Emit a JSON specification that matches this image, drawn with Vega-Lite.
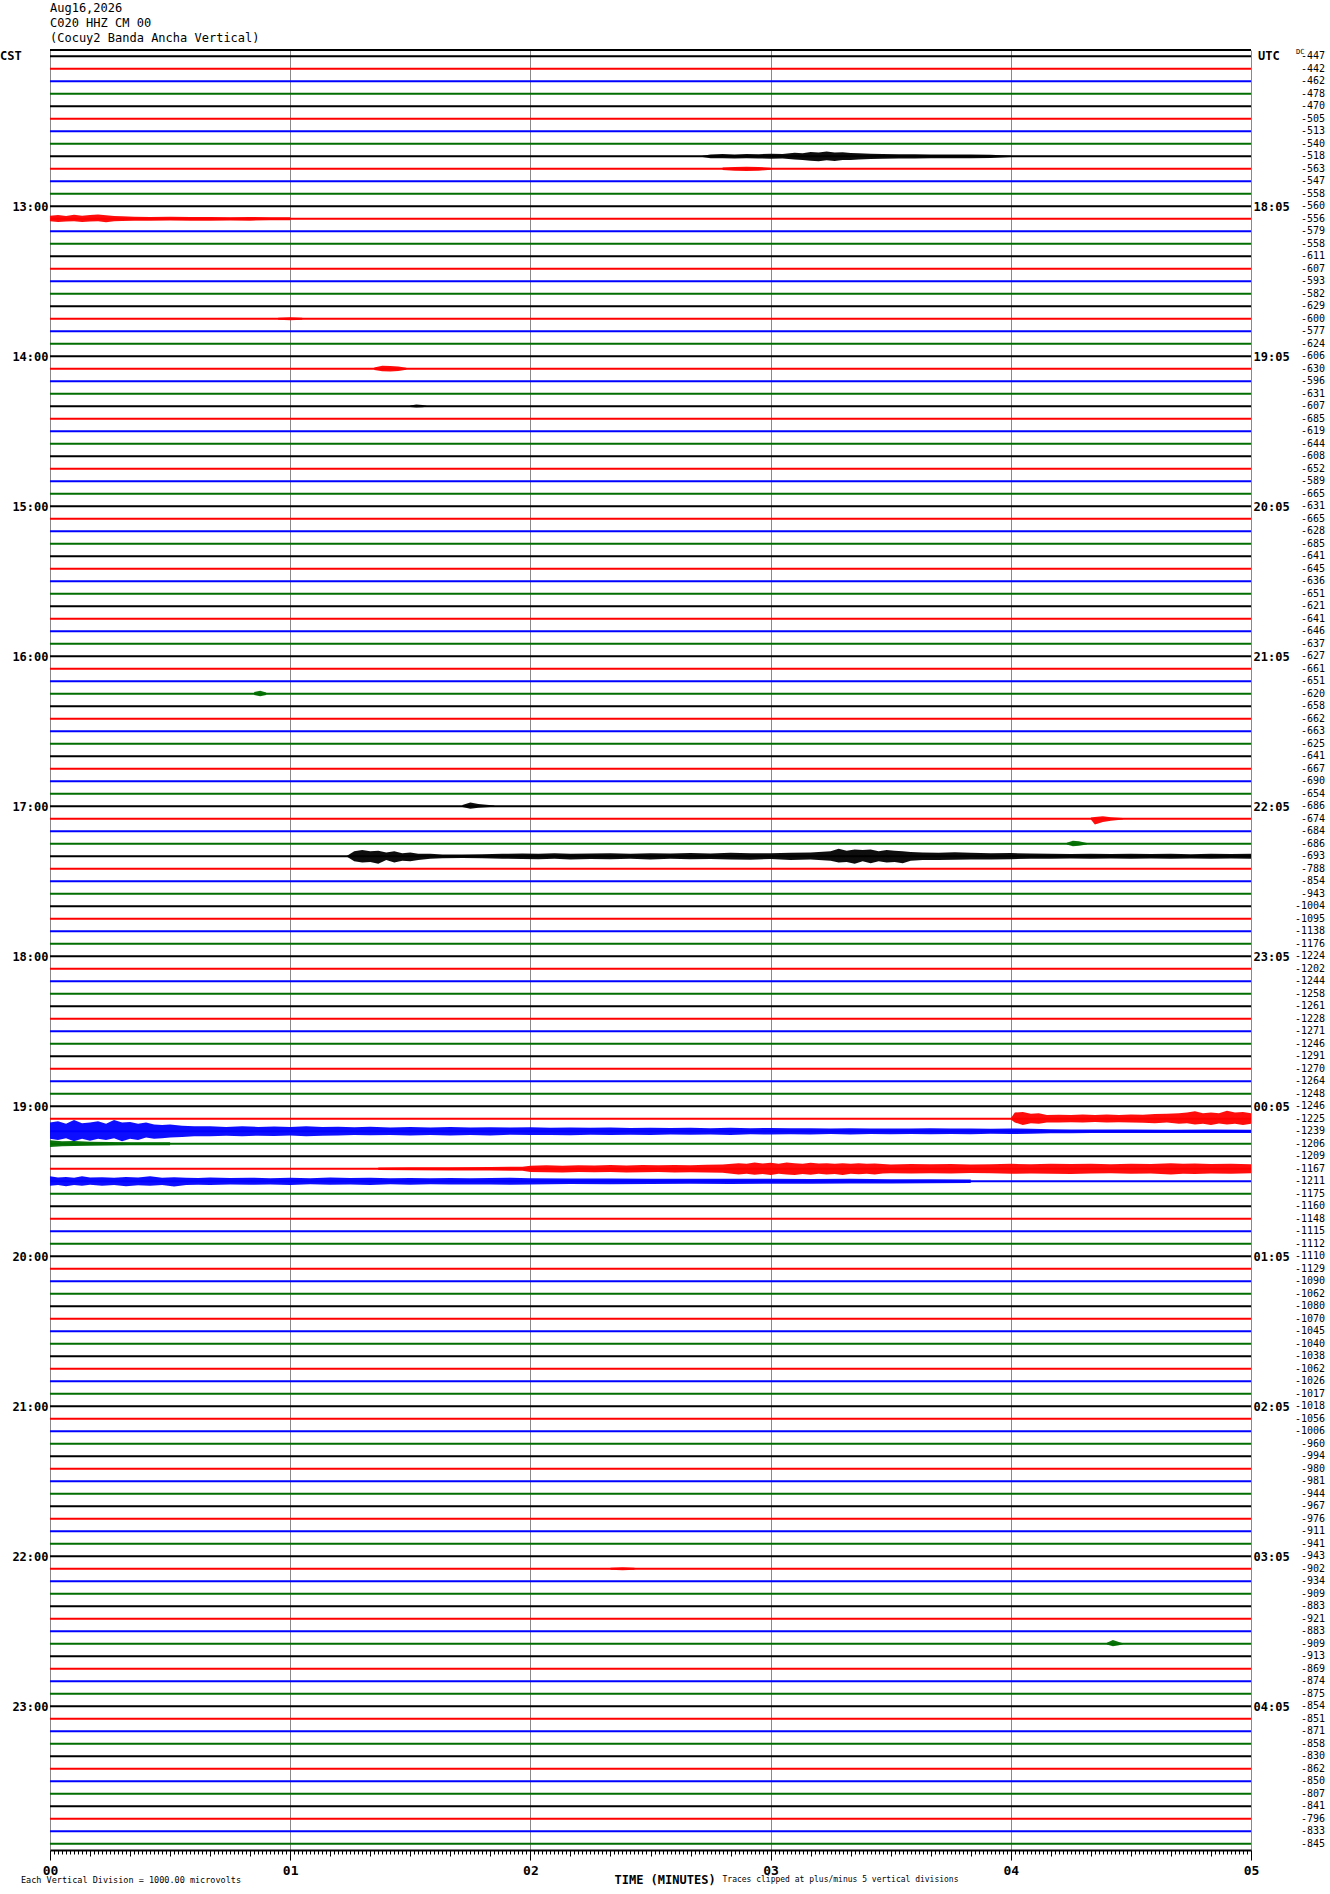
{
  "$schema": "https://vega.github.io/schema/vega-lite/v6.json",
  "autosize": "none",
  "width": 1201,
  "height": 1800,
  "padding": {"left": 50, "top": 50, "right": 79, "bottom": 44},
  "background": "white",
  "title": {
    "text": ["Aug16,2026", "C020 HHZ CM 00", "(Cocuy2 Banda Ancha Vertical)"],
    "anchor": "start",
    "frame": "group",
    "font": "DejaVu Sans Mono",
    "fontSize": 12,
    "fontWeight": "normal",
    "lineHeight": 15,
    "offset": 3,
    "color": "#000000"
  },
  "config": {"view": {"stroke": null}, "font": "DejaVu Sans Mono"},
  "resolve": {"axis": {"y": "independent"}},
  "datasets": {
    "traces": [
      {"i":0,"c":"k","dc":-447},{"i":1,"c":"r","dc":-442},{"i":2,"c":"b","dc":-462},{"i":3,"c":"g","dc":-478},
      {"i":4,"c":"k","dc":-470},{"i":5,"c":"r","dc":-505},{"i":6,"c":"b","dc":-513},{"i":7,"c":"g","dc":-540},
      {"i":8,"c":"k","dc":-518},{"i":9,"c":"r","dc":-563},{"i":10,"c":"b","dc":-547},{"i":11,"c":"g","dc":-558},
      {"i":12,"c":"k","dc":-560},{"i":13,"c":"r","dc":-556},{"i":14,"c":"b","dc":-579},{"i":15,"c":"g","dc":-558},
      {"i":16,"c":"k","dc":-611},{"i":17,"c":"r","dc":-607},{"i":18,"c":"b","dc":-593},{"i":19,"c":"g","dc":-582},
      {"i":20,"c":"k","dc":-629},{"i":21,"c":"r","dc":-600},{"i":22,"c":"b","dc":-577},{"i":23,"c":"g","dc":-624},
      {"i":24,"c":"k","dc":-606},{"i":25,"c":"r","dc":-630},{"i":26,"c":"b","dc":-596},{"i":27,"c":"g","dc":-631},
      {"i":28,"c":"k","dc":-607},{"i":29,"c":"r","dc":-685},{"i":30,"c":"b","dc":-619},{"i":31,"c":"g","dc":-644},
      {"i":32,"c":"k","dc":-608},{"i":33,"c":"r","dc":-652},{"i":34,"c":"b","dc":-589},{"i":35,"c":"g","dc":-665},
      {"i":36,"c":"k","dc":-631},{"i":37,"c":"r","dc":-665},{"i":38,"c":"b","dc":-628},{"i":39,"c":"g","dc":-685},
      {"i":40,"c":"k","dc":-641},{"i":41,"c":"r","dc":-645},{"i":42,"c":"b","dc":-636},{"i":43,"c":"g","dc":-651},
      {"i":44,"c":"k","dc":-621},{"i":45,"c":"r","dc":-641},{"i":46,"c":"b","dc":-646},{"i":47,"c":"g","dc":-637},
      {"i":48,"c":"k","dc":-627},{"i":49,"c":"r","dc":-661},{"i":50,"c":"b","dc":-651},{"i":51,"c":"g","dc":-620},
      {"i":52,"c":"k","dc":-658},{"i":53,"c":"r","dc":-662},{"i":54,"c":"b","dc":-663},{"i":55,"c":"g","dc":-625},
      {"i":56,"c":"k","dc":-641},{"i":57,"c":"r","dc":-667},{"i":58,"c":"b","dc":-690},{"i":59,"c":"g","dc":-654},
      {"i":60,"c":"k","dc":-686},{"i":61,"c":"r","dc":-674},{"i":62,"c":"b","dc":-684},{"i":63,"c":"g","dc":-686},
      {"i":64,"c":"k","dc":-693},{"i":65,"c":"r","dc":-788},{"i":66,"c":"b","dc":-854},{"i":67,"c":"g","dc":-943},
      {"i":68,"c":"k","dc":-1004},{"i":69,"c":"r","dc":-1095},{"i":70,"c":"b","dc":-1138},{"i":71,"c":"g","dc":-1176},
      {"i":72,"c":"k","dc":-1224},{"i":73,"c":"r","dc":-1202},{"i":74,"c":"b","dc":-1244},{"i":75,"c":"g","dc":-1258},
      {"i":76,"c":"k","dc":-1261},{"i":77,"c":"r","dc":-1228},{"i":78,"c":"b","dc":-1271},{"i":79,"c":"g","dc":-1246},
      {"i":80,"c":"k","dc":-1291},{"i":81,"c":"r","dc":-1270},{"i":82,"c":"b","dc":-1264},{"i":83,"c":"g","dc":-1248},
      {"i":84,"c":"k","dc":-1246},{"i":85,"c":"r","dc":-1225},{"i":86,"c":"b","dc":-1239},{"i":87,"c":"g","dc":-1206},
      {"i":88,"c":"k","dc":-1209},{"i":89,"c":"r","dc":-1167},{"i":90,"c":"b","dc":-1211},{"i":91,"c":"g","dc":-1175},
      {"i":92,"c":"k","dc":-1160},{"i":93,"c":"r","dc":-1148},{"i":94,"c":"b","dc":-1115},{"i":95,"c":"g","dc":-1112},
      {"i":96,"c":"k","dc":-1110},{"i":97,"c":"r","dc":-1129},{"i":98,"c":"b","dc":-1090},{"i":99,"c":"g","dc":-1062},
      {"i":100,"c":"k","dc":-1080},{"i":101,"c":"r","dc":-1070},{"i":102,"c":"b","dc":-1045},{"i":103,"c":"g","dc":-1040},
      {"i":104,"c":"k","dc":-1038},{"i":105,"c":"r","dc":-1062},{"i":106,"c":"b","dc":-1026},{"i":107,"c":"g","dc":-1017},
      {"i":108,"c":"k","dc":-1018},{"i":109,"c":"r","dc":-1056},{"i":110,"c":"b","dc":-1006},{"i":111,"c":"g","dc":-960},
      {"i":112,"c":"k","dc":-994},{"i":113,"c":"r","dc":-980},{"i":114,"c":"b","dc":-981},{"i":115,"c":"g","dc":-944},
      {"i":116,"c":"k","dc":-967},{"i":117,"c":"r","dc":-976},{"i":118,"c":"b","dc":-911},{"i":119,"c":"g","dc":-941},
      {"i":120,"c":"k","dc":-943},{"i":121,"c":"r","dc":-902},{"i":122,"c":"b","dc":-934},{"i":123,"c":"g","dc":-909},
      {"i":124,"c":"k","dc":-883},{"i":125,"c":"r","dc":-921},{"i":126,"c":"b","dc":-883},{"i":127,"c":"g","dc":-909},
      {"i":128,"c":"k","dc":-913},{"i":129,"c":"r","dc":-869},{"i":130,"c":"b","dc":-874},{"i":131,"c":"g","dc":-875},
      {"i":132,"c":"k","dc":-854},{"i":133,"c":"r","dc":-851},{"i":134,"c":"b","dc":-871},{"i":135,"c":"g","dc":-858},
      {"i":136,"c":"k","dc":-830},{"i":137,"c":"r","dc":-862},{"i":138,"c":"b","dc":-850},{"i":139,"c":"g","dc":-807},
      {"i":140,"c":"k","dc":-841},{"i":141,"c":"r","dc":-796},{"i":142,"c":"b","dc":-833},{"i":143,"c":"g","dc":-845}
    ],
    "events": [
      {"e":1,"c":"k","t":163,"lo":7.95,"hi":8.05},{"e":1,"c":"k","t":165,"lo":7.85,"hi":8.15},{"e":1,"c":"k","t":168,"lo":7.82,"hi":8.16},
      {"e":1,"c":"k","t":171,"lo":7.86,"hi":8.18},{"e":1,"c":"k","t":174,"lo":7.82,"hi":8.15},{"e":1,"c":"k","t":177,"lo":7.84,"hi":8.18},
      {"e":1,"c":"k","t":180,"lo":7.8,"hi":8.2},{"e":1,"c":"k","t":183,"lo":7.82,"hi":8.18},{"e":1,"c":"k","t":186,"lo":7.72,"hi":8.25},
      {"e":1,"c":"k","t":188,"lo":7.75,"hi":8.3},{"e":1,"c":"k","t":190,"lo":7.65,"hi":8.35},{"e":1,"c":"k","t":192,"lo":7.7,"hi":8.4},
      {"e":1,"c":"k","t":194,"lo":7.62,"hi":8.32},{"e":1,"c":"k","t":196,"lo":7.7,"hi":8.38},{"e":1,"c":"k","t":198,"lo":7.68,"hi":8.3},
      {"e":1,"c":"k","t":200,"lo":7.74,"hi":8.3},{"e":1,"c":"k","t":202,"lo":7.76,"hi":8.26},{"e":1,"c":"k","t":205,"lo":7.8,"hi":8.22},
      {"e":1,"c":"k","t":208,"lo":7.82,"hi":8.2},{"e":1,"c":"k","t":212,"lo":7.84,"hi":8.18},{"e":1,"c":"k","t":216,"lo":7.83,"hi":8.17},
      {"e":1,"c":"k","t":220,"lo":7.85,"hi":8.16},{"e":1,"c":"k","t":225,"lo":7.86,"hi":8.15},{"e":1,"c":"k","t":230,"lo":7.85,"hi":8.16},
      {"e":1,"c":"k","t":235,"lo":7.87,"hi":8.13},{"e":1,"c":"k","t":240,"lo":7.95,"hi":8.05},

      {"e":2,"c":"r","t":168,"lo":8.9,"hi":9.1},{"e":2,"c":"r","t":171,"lo":8.85,"hi":9.16},{"e":2,"c":"r","t":174,"lo":8.84,"hi":9.18},
      {"e":2,"c":"r","t":177,"lo":8.86,"hi":9.16},{"e":2,"c":"r","t":180,"lo":8.92,"hi":9.08},

      {"e":3,"c":"r","t":0,"lo":12.75,"hi":13.2},{"e":3,"c":"r","t":2,"lo":12.7,"hi":13.25},{"e":3,"c":"r","t":4,"lo":12.78,"hi":13.22},
      {"e":3,"c":"r","t":6,"lo":12.68,"hi":13.2},{"e":3,"c":"r","t":8,"lo":12.75,"hi":13.25},{"e":3,"c":"r","t":10,"lo":12.7,"hi":13.22},
      {"e":3,"c":"r","t":12,"lo":12.66,"hi":13.2},{"e":3,"c":"r","t":14,"lo":12.72,"hi":13.28},{"e":3,"c":"r","t":16,"lo":12.78,"hi":13.2},
      {"e":3,"c":"r","t":18,"lo":12.8,"hi":13.18},{"e":3,"c":"r","t":21,"lo":12.84,"hi":13.16},{"e":3,"c":"r","t":25,"lo":12.86,"hi":13.15},
      {"e":3,"c":"r","t":30,"lo":12.84,"hi":13.14},{"e":3,"c":"r","t":35,"lo":12.86,"hi":13.15},{"e":3,"c":"r","t":40,"lo":12.85,"hi":13.16},
      {"e":3,"c":"r","t":45,"lo":12.87,"hi":13.14},{"e":3,"c":"r","t":50,"lo":12.86,"hi":13.15},{"e":3,"c":"r","t":55,"lo":12.88,"hi":13.12},
      {"e":3,"c":"r","t":60,"lo":12.88,"hi":13.12},

      {"e":4,"c":"r","t":81,"lo":24.9,"hi":25.1},{"e":4,"c":"r","t":83,"lo":24.75,"hi":25.2},{"e":4,"c":"r","t":85,"lo":24.78,"hi":25.22},
      {"e":4,"c":"r","t":87,"lo":24.82,"hi":25.18},{"e":4,"c":"r","t":89,"lo":24.92,"hi":25.08},

      {"e":5,"c":"k","t":90,"lo":27.93,"hi":28.05},{"e":5,"c":"k","t":91.5,"lo":27.85,"hi":28.1},{"e":5,"c":"k","t":93,"lo":27.9,"hi":28.08},
      {"e":5,"c":"k","t":94,"lo":27.95,"hi":28.04},

      {"e":6,"c":"g","t":51,"lo":50.85,"hi":51.1},{"e":6,"c":"g","t":52.5,"lo":50.75,"hi":51.2},{"e":6,"c":"g","t":54,"lo":50.9,"hi":51.1},

      {"e":7,"c":"k","t":103,"lo":59.9,"hi":60.05},{"e":7,"c":"k","t":105,"lo":59.7,"hi":60.2},{"e":7,"c":"k","t":107,"lo":59.82,"hi":60.12},
      {"e":7,"c":"k","t":109,"lo":59.88,"hi":60.08},{"e":7,"c":"k","t":111,"lo":59.94,"hi":60.04},

      {"e":8,"c":"r","t":260,"lo":60.9,"hi":61.05},{"e":8,"c":"r","t":261,"lo":60.85,"hi":61.45},{"e":8,"c":"r","t":263,"lo":60.8,"hi":61.25},
      {"e":8,"c":"r","t":265,"lo":60.88,"hi":61.15},{"e":8,"c":"r","t":268,"lo":60.94,"hi":61.06},

      {"e":9,"c":"g","t":254,"lo":62.92,"hi":63.05},{"e":9,"c":"g","t":255.5,"lo":62.75,"hi":63.2},{"e":9,"c":"g","t":257,"lo":62.8,"hi":63.15},
      {"e":9,"c":"g","t":259,"lo":62.93,"hi":63.05},

      {"e":10,"c":"k","t":74,"lo":64,"hi":64},{"e":10,"c":"k","t":76,"lo":63.6,"hi":64.4},{"e":10,"c":"k","t":78,"lo":63.5,"hi":64.5},
      {"e":10,"c":"k","t":80,"lo":63.6,"hi":64.45},{"e":10,"c":"k","t":82,"lo":63.55,"hi":64.6},{"e":10,"c":"k","t":84,"lo":63.7,"hi":64.3},
      {"e":10,"c":"k","t":86,"lo":63.6,"hi":64.5},{"e":10,"c":"k","t":88,"lo":63.75,"hi":64.35},{"e":10,"c":"k","t":90,"lo":63.7,"hi":64.4},
      {"e":10,"c":"k","t":92,"lo":63.8,"hi":64.3},{"e":10,"c":"k","t":95,"lo":63.8,"hi":64.2},{"e":10,"c":"k","t":98,"lo":63.85,"hi":64.15},
      {"e":10,"c":"k","t":103,"lo":63.86,"hi":64.14},{"e":10,"c":"k","t":108,"lo":63.84,"hi":64.16},{"e":10,"c":"k","t":113,"lo":63.8,"hi":64.2},
      {"e":10,"c":"k","t":118,"lo":63.78,"hi":64.22},{"e":10,"c":"k","t":122,"lo":63.8,"hi":64.24},{"e":10,"c":"k","t":126,"lo":63.76,"hi":64.2},
      {"e":10,"c":"k","t":130,"lo":63.8,"hi":64.25},{"e":10,"c":"k","t":135,"lo":63.77,"hi":64.22},{"e":10,"c":"k","t":140,"lo":63.75,"hi":64.24},
      {"e":10,"c":"k","t":145,"lo":63.8,"hi":64.2},{"e":10,"c":"k","t":150,"lo":63.76,"hi":64.26},{"e":10,"c":"k","t":155,"lo":63.78,"hi":64.2},
      {"e":10,"c":"k","t":160,"lo":63.74,"hi":64.24},{"e":10,"c":"k","t":165,"lo":63.78,"hi":64.22},{"e":10,"c":"k","t":170,"lo":63.72,"hi":64.25},
      {"e":10,"c":"k","t":175,"lo":63.76,"hi":64.28},{"e":10,"c":"k","t":180,"lo":63.75,"hi":64.22},{"e":10,"c":"k","t":185,"lo":63.72,"hi":64.3},
      {"e":10,"c":"k","t":190,"lo":63.7,"hi":64.26},{"e":10,"c":"k","t":195,"lo":63.6,"hi":64.35},{"e":10,"c":"k","t":197,"lo":63.4,"hi":64.5},
      {"e":10,"c":"k","t":199,"lo":63.55,"hi":64.45},{"e":10,"c":"k","t":201,"lo":63.45,"hi":64.6},{"e":10,"c":"k","t":203,"lo":63.5,"hi":64.4},
      {"e":10,"c":"k","t":205,"lo":63.45,"hi":64.55},{"e":10,"c":"k","t":207,"lo":63.6,"hi":64.4},{"e":10,"c":"k","t":209,"lo":63.5,"hi":64.5},
      {"e":10,"c":"k","t":211,"lo":63.55,"hi":64.45},{"e":10,"c":"k","t":213,"lo":63.6,"hi":64.55},{"e":10,"c":"k","t":215,"lo":63.65,"hi":64.35},
      {"e":10,"c":"k","t":218,"lo":63.7,"hi":64.3},{"e":10,"c":"k","t":222,"lo":63.72,"hi":64.3},{"e":10,"c":"k","t":226,"lo":63.68,"hi":64.28},
      {"e":10,"c":"k","t":230,"lo":63.72,"hi":64.26},{"e":10,"c":"k","t":235,"lo":63.75,"hi":64.25},{"e":10,"c":"k","t":240,"lo":63.74,"hi":64.24},
      {"e":10,"c":"k","t":245,"lo":63.78,"hi":64.2},{"e":10,"c":"k","t":250,"lo":63.8,"hi":64.2},{"e":10,"c":"k","t":255,"lo":63.82,"hi":64.18},
      {"e":10,"c":"k","t":260,"lo":63.8,"hi":64.2},{"e":10,"c":"k","t":265,"lo":63.82,"hi":64.18},{"e":10,"c":"k","t":270,"lo":63.8,"hi":64.2},
      {"e":10,"c":"k","t":275,"lo":63.82,"hi":64.17},{"e":10,"c":"k","t":280,"lo":63.8,"hi":64.2},{"e":10,"c":"k","t":285,"lo":63.83,"hi":64.18},
      {"e":10,"c":"k","t":290,"lo":63.8,"hi":64.2},{"e":10,"c":"k","t":295,"lo":63.82,"hi":64.18},{"e":10,"c":"k","t":300,"lo":63.8,"hi":64.2},

      {"e":11,"c":"r","t":240,"lo":84.95,"hi":85.05},{"e":11,"c":"r","t":241,"lo":84.5,"hi":85.3},{"e":11,"c":"r","t":243,"lo":84.45,"hi":85.5},
      {"e":11,"c":"r","t":245,"lo":84.6,"hi":85.35},{"e":11,"c":"r","t":247,"lo":84.55,"hi":85.4},{"e":11,"c":"r","t":249,"lo":84.7,"hi":85.3},
      {"e":11,"c":"r","t":252,"lo":84.68,"hi":85.3},{"e":11,"c":"r","t":255,"lo":84.7,"hi":85.28},{"e":11,"c":"r","t":258,"lo":84.66,"hi":85.3},
      {"e":11,"c":"r","t":261,"lo":84.7,"hi":85.26},{"e":11,"c":"r","t":264,"lo":84.65,"hi":85.3},{"e":11,"c":"r","t":267,"lo":84.7,"hi":85.28},
      {"e":11,"c":"r","t":270,"lo":84.66,"hi":85.3},{"e":11,"c":"r","t":273,"lo":84.68,"hi":85.32},{"e":11,"c":"r","t":276,"lo":84.62,"hi":85.35},
      {"e":11,"c":"r","t":279,"lo":84.6,"hi":85.3},{"e":11,"c":"r","t":282,"lo":84.55,"hi":85.4},{"e":11,"c":"r","t":284,"lo":84.5,"hi":85.35},
      {"e":11,"c":"r","t":286,"lo":84.4,"hi":85.45},{"e":11,"c":"r","t":288,"lo":84.55,"hi":85.4},{"e":11,"c":"r","t":290,"lo":84.5,"hi":85.5},
      {"e":11,"c":"r","t":292,"lo":84.55,"hi":85.38},{"e":11,"c":"r","t":294,"lo":84.35,"hi":85.45},{"e":11,"c":"r","t":296,"lo":84.5,"hi":85.4},
      {"e":11,"c":"r","t":298,"lo":84.45,"hi":85.5},{"e":11,"c":"r","t":300,"lo":84.55,"hi":85.4},

      {"e":12,"c":"b","t":0,"lo":85.3,"hi":86.6},{"e":12,"c":"b","t":2,"lo":85.2,"hi":86.7},{"e":12,"c":"b","t":4,"lo":85.4,"hi":86.55},
      {"e":12,"c":"b","t":6,"lo":85.1,"hi":86.8},{"e":12,"c":"b","t":8,"lo":85.35,"hi":86.6},{"e":12,"c":"b","t":10,"lo":85.3,"hi":86.75},
      {"e":12,"c":"b","t":12,"lo":85.2,"hi":86.6},{"e":12,"c":"b","t":14,"lo":85.4,"hi":86.7},{"e":12,"c":"b","t":16,"lo":85.1,"hi":86.55},
      {"e":12,"c":"b","t":18,"lo":85.3,"hi":86.8},{"e":12,"c":"b","t":20,"lo":85.25,"hi":86.6},{"e":12,"c":"b","t":22,"lo":85.4,"hi":86.7},
      {"e":12,"c":"b","t":24,"lo":85.3,"hi":86.5},{"e":12,"c":"b","t":26,"lo":85.45,"hi":86.6},{"e":12,"c":"b","t":28,"lo":85.5,"hi":86.55},
      {"e":12,"c":"b","t":30,"lo":85.45,"hi":86.5},{"e":12,"c":"b","t":33,"lo":85.55,"hi":86.45},{"e":12,"c":"b","t":36,"lo":85.6,"hi":86.4},
      {"e":12,"c":"b","t":40,"lo":85.6,"hi":86.4},{"e":12,"c":"b","t":44,"lo":85.65,"hi":86.35},{"e":12,"c":"b","t":48,"lo":85.6,"hi":86.4},
      {"e":12,"c":"b","t":52,"lo":85.65,"hi":86.35},{"e":12,"c":"b","t":56,"lo":85.62,"hi":86.38},{"e":12,"c":"b","t":60,"lo":85.66,"hi":86.34},
      {"e":12,"c":"b","t":64,"lo":85.6,"hi":86.4},{"e":12,"c":"b","t":68,"lo":85.66,"hi":86.36},{"e":12,"c":"b","t":72,"lo":85.64,"hi":86.34},
      {"e":12,"c":"b","t":76,"lo":85.68,"hi":86.3},{"e":12,"c":"b","t":80,"lo":85.64,"hi":86.32},{"e":12,"c":"b","t":85,"lo":85.7,"hi":86.3},
      {"e":12,"c":"b","t":90,"lo":85.66,"hi":86.34},{"e":12,"c":"b","t":95,"lo":85.7,"hi":86.3},{"e":12,"c":"b","t":100,"lo":85.66,"hi":86.33},
      {"e":12,"c":"b","t":105,"lo":85.7,"hi":86.3},{"e":12,"c":"b","t":110,"lo":85.68,"hi":86.34},{"e":12,"c":"b","t":115,"lo":85.7,"hi":86.28},
      {"e":12,"c":"b","t":120,"lo":85.68,"hi":86.3},{"e":12,"c":"b","t":125,"lo":85.72,"hi":86.3},{"e":12,"c":"b","t":130,"lo":85.7,"hi":86.32},
      {"e":12,"c":"b","t":135,"lo":85.72,"hi":86.28},{"e":12,"c":"b","t":140,"lo":85.7,"hi":86.3},{"e":12,"c":"b","t":145,"lo":85.74,"hi":86.28},
      {"e":12,"c":"b","t":150,"lo":85.72,"hi":86.3},{"e":12,"c":"b","t":155,"lo":85.74,"hi":86.26},{"e":12,"c":"b","t":160,"lo":85.72,"hi":86.28},
      {"e":12,"c":"b","t":165,"lo":85.76,"hi":86.26},{"e":12,"c":"b","t":170,"lo":85.72,"hi":86.3},{"e":12,"c":"b","t":175,"lo":85.76,"hi":86.24},
      {"e":12,"c":"b","t":180,"lo":85.74,"hi":86.26},{"e":12,"c":"b","t":185,"lo":85.76,"hi":86.24},{"e":12,"c":"b","t":190,"lo":85.75,"hi":86.26},
      {"e":12,"c":"b","t":195,"lo":85.78,"hi":86.22},{"e":12,"c":"b","t":200,"lo":85.76,"hi":86.25},{"e":12,"c":"b","t":205,"lo":85.78,"hi":86.22},
      {"e":12,"c":"b","t":210,"lo":85.77,"hi":86.24},{"e":12,"c":"b","t":215,"lo":85.78,"hi":86.22},{"e":12,"c":"b","t":220,"lo":85.76,"hi":86.24},
      {"e":12,"c":"b","t":225,"lo":85.78,"hi":86.22},{"e":12,"c":"b","t":230,"lo":85.77,"hi":86.23},{"e":12,"c":"b","t":235,"lo":85.8,"hi":86.2},
      {"e":12,"c":"b","t":240,"lo":85.78,"hi":86.22},{"e":12,"c":"b","t":245,"lo":85.8,"hi":86.2},{"e":12,"c":"b","t":250,"lo":85.84,"hi":86.16},
      {"e":12,"c":"b","t":255,"lo":85.85,"hi":86.15},{"e":12,"c":"b","t":260,"lo":85.86,"hi":86.14},{"e":12,"c":"b","t":270,"lo":85.86,"hi":86.14},
      {"e":12,"c":"b","t":280,"lo":85.87,"hi":86.13},{"e":12,"c":"b","t":290,"lo":85.86,"hi":86.14},{"e":12,"c":"b","t":300,"lo":85.87,"hi":86.13},

      {"e":13,"c":"g","t":0,"lo":86.72,"hi":87.25},{"e":13,"c":"g","t":3,"lo":86.8,"hi":87.2},{"e":13,"c":"g","t":6,"lo":86.78,"hi":87.18},
      {"e":13,"c":"g","t":10,"lo":86.84,"hi":87.16},{"e":13,"c":"g","t":15,"lo":86.86,"hi":87.14},{"e":13,"c":"g","t":20,"lo":86.88,"hi":87.12},
      {"e":13,"c":"g","t":30,"lo":86.88,"hi":87.12},

      {"e":14,"c":"r","t":82,"lo":88.9,"hi":89.1},{"e":14,"c":"r","t":90,"lo":88.88,"hi":89.12},{"e":14,"c":"r","t":100,"lo":88.87,"hi":89.13},
      {"e":14,"c":"r","t":110,"lo":88.86,"hi":89.14},{"e":14,"c":"r","t":118,"lo":88.84,"hi":89.16},{"e":14,"c":"r","t":120,"lo":88.75,"hi":89.25},
      {"e":14,"c":"r","t":124,"lo":88.72,"hi":89.28},{"e":14,"c":"r","t":128,"lo":88.75,"hi":89.3},{"e":14,"c":"r","t":132,"lo":88.72,"hi":89.25},
      {"e":14,"c":"r","t":136,"lo":88.74,"hi":89.28},{"e":14,"c":"r","t":140,"lo":88.7,"hi":89.26},{"e":14,"c":"r","t":144,"lo":88.74,"hi":89.3},
      {"e":14,"c":"r","t":148,"lo":88.7,"hi":89.28},{"e":14,"c":"r","t":152,"lo":88.72,"hi":89.26},{"e":14,"c":"r","t":156,"lo":88.7,"hi":89.3},
      {"e":14,"c":"r","t":160,"lo":88.72,"hi":89.28},{"e":14,"c":"r","t":164,"lo":88.68,"hi":89.3},{"e":14,"c":"r","t":168,"lo":88.66,"hi":89.32},
      {"e":14,"c":"r","t":172,"lo":88.55,"hi":89.45},{"e":14,"c":"r","t":174,"lo":88.6,"hi":89.4},{"e":14,"c":"r","t":176,"lo":88.5,"hi":89.48},
      {"e":14,"c":"r","t":178,"lo":88.58,"hi":89.42},{"e":14,"c":"r","t":180,"lo":88.52,"hi":89.5},{"e":14,"c":"r","t":182,"lo":88.6,"hi":89.4},
      {"e":14,"c":"r","t":184,"lo":88.5,"hi":89.45},{"e":14,"c":"r","t":186,"lo":88.55,"hi":89.5},{"e":14,"c":"r","t":188,"lo":88.6,"hi":89.42},
      {"e":14,"c":"r","t":190,"lo":88.52,"hi":89.48},{"e":14,"c":"r","t":192,"lo":88.58,"hi":89.4},{"e":14,"c":"r","t":194,"lo":88.55,"hi":89.46},
      {"e":14,"c":"r","t":196,"lo":88.6,"hi":89.42},{"e":14,"c":"r","t":198,"lo":88.55,"hi":89.5},{"e":14,"c":"r","t":200,"lo":88.6,"hi":89.4},
      {"e":14,"c":"r","t":202,"lo":88.56,"hi":89.44},{"e":14,"c":"r","t":204,"lo":88.6,"hi":89.4},{"e":14,"c":"r","t":206,"lo":88.58,"hi":89.45},
      {"e":14,"c":"r","t":208,"lo":88.62,"hi":89.38},{"e":14,"c":"r","t":210,"lo":88.65,"hi":89.35},{"e":14,"c":"r","t":215,"lo":88.62,"hi":89.38},
      {"e":14,"c":"r","t":220,"lo":88.64,"hi":89.36},{"e":14,"c":"r","t":225,"lo":88.62,"hi":89.38},{"e":14,"c":"r","t":230,"lo":88.66,"hi":89.34},
      {"e":14,"c":"r","t":235,"lo":88.64,"hi":89.36},{"e":14,"c":"r","t":240,"lo":88.6,"hi":89.4},{"e":14,"c":"r","t":245,"lo":88.64,"hi":89.38},
      {"e":14,"c":"r","t":250,"lo":88.6,"hi":89.4},{"e":14,"c":"r","t":255,"lo":88.62,"hi":89.42},{"e":14,"c":"r","t":260,"lo":88.6,"hi":89.38},
      {"e":14,"c":"r","t":265,"lo":88.64,"hi":89.36},{"e":14,"c":"r","t":270,"lo":88.6,"hi":89.4},{"e":14,"c":"r","t":275,"lo":88.62,"hi":89.38},
      {"e":14,"c":"r","t":280,"lo":88.55,"hi":89.45},{"e":14,"c":"r","t":283,"lo":88.6,"hi":89.4},{"e":14,"c":"r","t":286,"lo":88.58,"hi":89.42},
      {"e":14,"c":"r","t":290,"lo":88.62,"hi":89.38},{"e":14,"c":"r","t":295,"lo":88.6,"hi":89.4},{"e":14,"c":"r","t":300,"lo":88.64,"hi":89.36},

      {"e":15,"c":"b","t":0,"lo":89.6,"hi":90.35},{"e":15,"c":"b","t":2,"lo":89.7,"hi":90.3},{"e":15,"c":"b","t":4,"lo":89.65,"hi":90.4},
      {"e":15,"c":"b","t":6,"lo":89.72,"hi":90.3},{"e":15,"c":"b","t":8,"lo":89.6,"hi":90.35},{"e":15,"c":"b","t":10,"lo":89.7,"hi":90.28},
      {"e":15,"c":"b","t":13,"lo":89.68,"hi":90.36},{"e":15,"c":"b","t":16,"lo":89.72,"hi":90.3},{"e":15,"c":"b","t":19,"lo":89.66,"hi":90.4},
      {"e":15,"c":"b","t":22,"lo":89.7,"hi":90.32},{"e":15,"c":"b","t":25,"lo":89.6,"hi":90.35},{"e":15,"c":"b","t":28,"lo":89.72,"hi":90.3},
      {"e":15,"c":"b","t":31,"lo":89.68,"hi":90.42},{"e":15,"c":"b","t":34,"lo":89.72,"hi":90.3},{"e":15,"c":"b","t":37,"lo":89.74,"hi":90.28},
      {"e":15,"c":"b","t":40,"lo":89.7,"hi":90.3},{"e":15,"c":"b","t":45,"lo":89.74,"hi":90.26},{"e":15,"c":"b","t":50,"lo":89.72,"hi":90.28},
      {"e":15,"c":"b","t":55,"lo":89.75,"hi":90.25},{"e":15,"c":"b","t":60,"lo":89.72,"hi":90.3},{"e":15,"c":"b","t":65,"lo":89.76,"hi":90.24},
      {"e":15,"c":"b","t":70,"lo":89.7,"hi":90.28},{"e":15,"c":"b","t":75,"lo":89.74,"hi":90.26},{"e":15,"c":"b","t":80,"lo":89.72,"hi":90.3},
      {"e":15,"c":"b","t":85,"lo":89.75,"hi":90.24},{"e":15,"c":"b","t":90,"lo":89.73,"hi":90.27},{"e":15,"c":"b","t":95,"lo":89.76,"hi":90.24},
      {"e":15,"c":"b","t":100,"lo":89.74,"hi":90.26},{"e":15,"c":"b","t":105,"lo":89.76,"hi":90.25},{"e":15,"c":"b","t":110,"lo":89.74,"hi":90.26},
      {"e":15,"c":"b","t":115,"lo":89.72,"hi":90.28},{"e":15,"c":"b","t":120,"lo":89.76,"hi":90.26},{"e":15,"c":"b","t":130,"lo":89.78,"hi":90.22},
      {"e":15,"c":"b","t":140,"lo":89.77,"hi":90.24},{"e":15,"c":"b","t":150,"lo":89.79,"hi":90.22},{"e":15,"c":"b","t":160,"lo":89.8,"hi":90.2},
      {"e":15,"c":"b","t":170,"lo":89.8,"hi":90.21},{"e":15,"c":"b","t":180,"lo":89.8,"hi":90.2},{"e":15,"c":"b","t":190,"lo":89.82,"hi":90.2},
      {"e":15,"c":"b","t":200,"lo":89.8,"hi":90.18},{"e":15,"c":"b","t":210,"lo":89.83,"hi":90.18},{"e":15,"c":"b","t":220,"lo":89.84,"hi":90.16},
      {"e":15,"c":"b","t":230,"lo":89.86,"hi":90.14},

      {"e":16,"c":"r","t":140,"lo":120.92,"hi":121.08},{"e":16,"c":"r","t":143,"lo":120.88,"hi":121.12},{"e":16,"c":"r","t":146,"lo":120.92,"hi":121.08},

      {"e":17,"c":"g","t":264,"lo":126.92,"hi":127.05},{"e":17,"c":"g","t":265.5,"lo":126.7,"hi":127.2},{"e":17,"c":"g","t":267,"lo":126.85,"hi":127.12},
      {"e":17,"c":"g","t":268,"lo":126.95,"hi":127.04},

      {"e":18,"c":"r","t":57,"lo":20.92,"hi":21.08},{"e":18,"c":"r","t":60,"lo":20.88,"hi":21.12},{"e":18,"c":"r","t":63,"lo":20.92,"hi":21.08}
    ]
  },
  "layer": [
    {
      "data": {"name": "traces"},
      "mark": {"type": "rule", "strokeWidth": 1.8},
      "encoding": {
        "y": {
          "field": "i",
          "type": "quantitative",
          "scale": {"domain": [-0.5, 143.5], "reverse": true, "nice": false, "zero": false},
          "axis": {
            "orient": "left",
            "values": [12, 24, 36, 48, 60, 72, 84, 96, 108, 120, 132],
            "labelExpr": "(12 + datum.value / 12) + ':00'",
            "domain": false,
            "ticks": false,
            "grid": false,
            "labelPadding": 2,
            "labelFont": "DejaVu Sans Mono",
            "labelFontWeight": "bold",
            "labelFontSize": 12,
            "labelColor": "#000000",
            "title": null
          }
        },
        "color": {
          "field": "c",
          "type": "nominal",
          "scale": {"domain": ["k", "r", "b", "g"], "range": ["#000000", "#ff0000", "#0000ff", "#006e00"]},
          "legend": null
        }
      }
    },
    {
      "data": {"name": "events"},
      "mark": {"type": "area", "opacity": 0.95, "interpolate": "linear"},
      "encoding": {
        "x": {
          "field": "t",
          "type": "quantitative",
          "scale": {"domain": [0, 300], "nice": false, "zero": false},
          "axis": {
            "orient": "bottom",
            "tickCount": 300,
            "labelExpr": "datum.value % 60 === 0 ? '0' + (datum.value / 60) : ''",
            "labelOverlap": false,
            "labelFlush": false,
            "labelBound": false,
            "grid": true,
            "gridColor": "#8a8a8a",
            "gridWidth": 1,
            "gridOpacity": {"condition": {"test": "datum.value % 60 === 0", "value": 1}, "value": 0},
            "tickColor": "#000000",
            "tickWidth": 1,
            "tickSize": {"condition": [{"test": "datum.value % 60 === 0", "value": 10}, {"test": "datum.value % 10 === 0", "value": 6}], "value": 4},
            "domainColor": "#000000",
            "domainWidth": 2,
            "labelFont": "DejaVu Sans Mono",
            "labelFontWeight": "bold",
            "labelFontSize": 13,
            "labelColor": "#000000",
            "labelPadding": 4,
            "title": null
          }
        },
        "y": {"field": "lo", "type": "quantitative", "axis": null},
        "y2": {"field": "hi"},
        "color": {"field": "c", "type": "nominal", "legend": null},
        "detail": {"field": "e", "type": "nominal"}
      }
    },
    {
      "data": {"name": "traces"},
      "mark": {"type": "text", "align": "right", "baseline": "middle", "dx": 74, "font": "DejaVu Sans Mono", "fontSize": 10, "color": "#000000"},
      "encoding": {
        "x": {"datum": 300},
        "y": {
          "field": "i",
          "type": "quantitative",
          "axis": {
            "orient": "right",
            "values": [12, 24, 36, 48, 60, 72, 84, 96, 108, 120, 132],
            "labelExpr": "((17 + datum.value / 12) % 24 < 10 ? '0' : '') + ((17 + datum.value / 12) % 24) + ':05'",
            "domain": false,
            "ticks": false,
            "grid": false,
            "labelPadding": 2,
            "labelFont": "DejaVu Sans Mono",
            "labelFontWeight": "bold",
            "labelFontSize": 12,
            "labelColor": "#000000",
            "title": null
          }
        },
        "text": {"field": "dc"}
      }
    },
    {
      "data": {"values": [{}]},
      "mark": {"type": "rule", "color": "#000000", "strokeWidth": 2},
      "encoding": {"y": {"datum": -0.5, "axis": null}}
    },
    {
      "data": {"values": [{}]},
      "mark": {"type": "text", "text": "CST", "align": "left", "baseline": "middle", "dx": -50, "font": "DejaVu Sans Mono", "fontWeight": "bold", "fontSize": 12, "color": "#000000"},
      "encoding": {"x": {"datum": 0}, "y": {"datum": 0, "axis": null}}
    },
    {
      "data": {"values": [{}]},
      "mark": {"type": "text", "text": "UTC", "align": "left", "baseline": "middle", "dx": 7, "font": "DejaVu Sans Mono", "fontWeight": "bold", "fontSize": 12, "color": "#000000"},
      "encoding": {"x": {"datum": 300}, "y": {"datum": 0, "axis": null}}
    },
    {
      "data": {"values": [{}]},
      "mark": {"type": "text", "text": "DC", "align": "left", "baseline": "middle", "dx": 45, "dy": -4, "font": "DejaVu Sans Mono", "fontSize": 7, "color": "#000000"},
      "encoding": {"x": {"datum": 300}, "y": {"datum": 0, "axis": null}}
    },
    {
      "data": {"values": [{}]},
      "mark": {"type": "text", "text": "Each Vertical Division = 1000.00 microvolts", "align": "left", "baseline": "middle", "dx": -29, "dy": 30, "font": "DejaVu Sans Mono", "fontSize": 8.5, "color": "#000000"},
      "encoding": {"x": {"datum": 0}, "y": {"datum": 143.5, "axis": null}}
    },
    {
      "data": {"values": [{}]},
      "mark": {"type": "text", "text": "TIME (MINUTES)", "align": "left", "baseline": "middle", "dx": -36, "dy": 30, "font": "DejaVu Sans Mono", "fontWeight": "bold", "fontSize": 12, "color": "#000000"},
      "encoding": {"x": {"datum": 150}, "y": {"datum": 143.5, "axis": null}}
    },
    {
      "data": {"values": [{}]},
      "mark": {"type": "text", "text": "Traces clipped at plus/minus 5 vertical divisions", "align": "left", "baseline": "middle", "dx": 72, "dy": 30, "font": "DejaVu Sans Mono", "fontSize": 8, "color": "#000000"},
      "encoding": {"x": {"datum": 150}, "y": {"datum": 143.5, "axis": null}}
    }
  ]
}
